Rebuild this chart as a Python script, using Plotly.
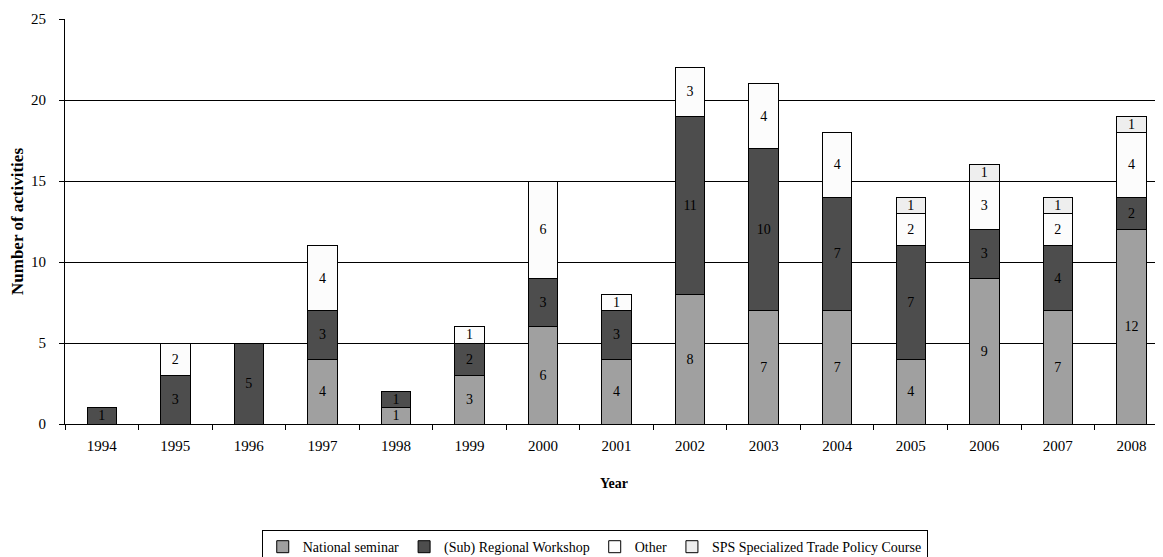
import plotly.graph_objects as go

years = ["1994", "1995", "1996", "1997", "1998", "1999", "2000", "2001",
         "2002", "2003", "2004", "2005", "2006", "2007", "2008"]
national = [None, None, None, 4, 1, 3, 6, 4, 8, 7, 7, 4, 9, 7, 12]
regional = [1, 3, 5, 3, 1, 2, 3, 3, 11, 10, 7, 7, 3, 4, 2]
other = [None, 2, None, 4, None, 1, 6, 1, 3, 4, 4, 2, 3, 2, 4]
sps = [None, None, None, None, None, None, None, None, None, None, None, 1, 1, 1, 1]

series = [
    ("National seminar", national, "#A0A0A0"),
    ("(Sub) Regional Workshop", regional, "#4D4D4D"),
    ("Other", other, "#FCFCFC"),
    ("SPS Specialized Trade Policy Course", sps, "#EEEEEE"),
]

FONT = "Liberation Serif, Times New Roman, serif"

fig = go.Figure()
for name, vals, color in series:
    fig.add_trace(go.Bar(
        name=name, x=years, y=vals,
        marker=dict(color=color, line=dict(color="black", width=1)),
        width=0.4,
        text=[("" if v is None else str(v)) for v in vals],
        textposition="inside", insidetextanchor="middle", textangle=0,
        textfont=dict(family=FONT, size=14, color="black"),
        insidetextfont=dict(family=FONT, size=14, color="black"),
        constraintext="none",
    ))

# page body has an 8px margin; figure sized so the plot area lands where the reference has it
fig.update_layout(
    width=1155, height=549,
    barmode="stack",
    paper_bgcolor="white", plot_bgcolor="white",
    margin=dict(l=57, r=0, t=11, b=133, autoexpand=False),
    font=dict(family=FONT, size=14, color="black"),
    showlegend=True,
    legend=dict(
        orientation="h", traceorder="normal",
        xref="container", x=0.508, xanchor="center",
        yref="container", y=0.049, yanchor="top",
        bordercolor="black", borderwidth=1,
        font=dict(family=FONT, size=14, color="black"),
        itemwidth=30, tracegroupgap=0,
    ),
    xaxis=dict(
        type="category", range=[-0.5, 14.43], automargin=False,
        showline=True, linecolor="black", linewidth=1,
        ticks="outside", tickson="boundaries", ticklen=5, tickcolor="black",
        ticklabelstandoff=8,
        tickfont=dict(family=FONT, size=15, color="black"),
        title=dict(text="<b>Year</b>", font=dict(family=FONT, size=14), standoff=25),
        showgrid=False,
    ),
    yaxis=dict(
        range=[0, 25], dtick=5, automargin=False,
        showline=True, linecolor="black", linewidth=1,
        ticks="outside", ticklen=5, tickcolor="black",
        ticklabelstandoff=10,
        tickfont=dict(family=FONT, size=15, color="black"),
        showgrid=True, gridcolor="black", gridwidth=1,
        zeroline=False,
        title=dict(text="<b>Number of activities</b>", font=dict(family=FONT, size=17), standoff=4),
    ),
)

fig.write_html("out.html")
